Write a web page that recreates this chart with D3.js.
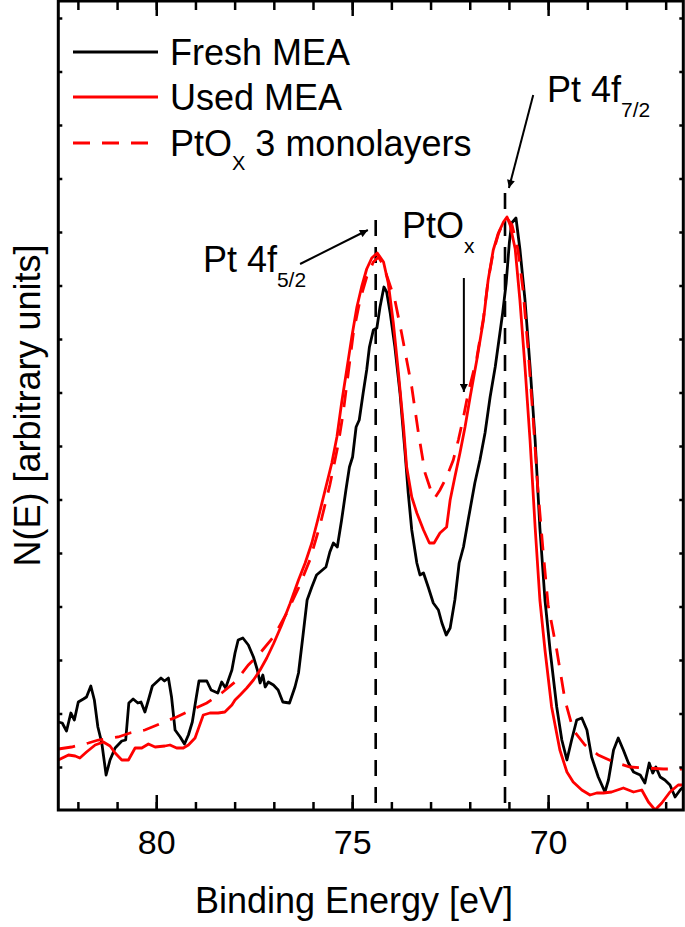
<!DOCTYPE html>
<html>
<head>
<meta charset="utf-8">
<script src="https://cdn.jsdelivr.net/npm/d3@7"></script>
<style>
  html, body { margin: 0; padding: 0; background: #fff; }
  svg { display: block; font-family: "Liberation Sans", Arial, sans-serif; }
</style>
</head>
<body>
<div class="chart"></div>
<script>
// Binding energy [eV] / intensity [arb. units]
var freshMEA = [
  [82.50, 88], [82.40, 87], [82.29, 79], [82.18, 97], [82.09, 90], [81.99, 108], [81.86, 111],
  [81.78, 113], [81.67, 124], [81.58, 110], [81.49, 83], [81.39, 67], [81.28, 35], [81.18, 50],
  [81.05, 62], [80.88, 69], [80.78, 70], [80.70, 107], [80.59, 111], [80.47, 107], [80.39, 108],
  [80.29, 98], [80.20, 110], [80.10, 124], [79.99, 128], [79.88, 132], [79.79, 129], [79.69, 132],
  [79.61, 113], [79.52, 80], [79.39, 73], [79.28, 66], [79.18, 75], [79.08, 88], [78.99, 110],
  [78.91, 129], [78.71, 129], [78.60, 120], [78.43, 117], [78.33, 128], [78.23, 122], [78.07, 140],
  [77.99, 157], [77.91, 170], [77.79, 172], [77.65, 165], [77.52, 153], [77.42, 140], [77.35, 127],
  [77.28, 135], [77.22, 123], [77.14, 128], [77.01, 125], [76.89, 120], [76.77, 108], [76.60, 107],
  [76.46, 123], [76.37, 137], [76.26, 173], [76.15, 210], [76.03, 223], [75.91, 235], [75.82, 238],
  [75.67, 243], [75.57, 258], [75.48, 267], [75.38, 263], [75.27, 290], [75.16, 320], [75.07, 343],
  [74.99, 353], [74.90, 383], [74.82, 390], [74.72, 417], [74.63, 440], [74.56, 463], [74.46, 480],
  [74.37, 482], [74.29, 503], [74.19, 523], [74.12, 518], [74.03, 497], [73.91, 463], [73.78, 417],
  [73.65, 357], [73.57, 317], [73.48, 280], [73.35, 247], [73.27, 235], [73.18, 237], [73.06, 223],
  [72.93, 207], [72.80, 200], [72.71, 187], [72.60, 175], [72.50, 182], [72.38, 210], [72.27, 247],
  [72.16, 263], [72.04, 290], [71.87, 327], [71.74, 350], [71.61, 377], [71.48, 413], [71.35, 443],
  [71.23, 477], [71.16, 497], [71.07, 527], [70.99, 567], [70.93, 587], [70.82, 592], [70.72, 561],
  [70.59, 510], [70.46, 443], [70.33, 369], [70.21, 282], [70.08, 210], [69.95, 160], [69.78, 103],
  [69.65, 70], [69.52, 50], [69.40, 70], [69.27, 90], [69.14, 92], [69.01, 80], [68.89, 53],
  [68.72, 33], [68.55, 18], [68.46, 30], [68.33, 60], [68.21, 72], [68.08, 60], [67.95, 47],
  [67.82, 38], [67.65, 35], [67.53, 27], [67.42, 47], [67.33, 37], [67.25, 43], [67.14, 33],
  [67.02, 30], [66.89, 25], [66.76, 13], [66.63, 20], [66.55, 23]
];

var usedMEA = [
  [82.50, 50], [82.24, 55], [82.07, 54], [81.95, 52], [81.78, 58], [81.56, 65], [81.35, 68],
  [81.18, 64], [81.05, 57], [80.88, 50], [80.71, 50], [80.54, 62], [80.37, 62], [80.20, 66],
  [80.03, 63], [79.78, 64], [79.65, 65], [79.48, 62], [79.31, 62], [79.18, 65], [79.01, 72],
  [78.80, 95], [78.63, 97], [78.42, 97], [78.25, 98], [78.07, 105], [77.99, 110], [77.86, 115],
  [77.69, 122], [77.52, 130], [77.35, 140], [77.18, 152], [77.01, 166], [76.80, 185], [76.59, 206],
  [76.37, 230], [76.20, 247], [76.03, 267], [75.86, 293], [75.69, 320], [75.52, 347], [75.39, 373],
  [75.27, 407], [75.14, 440], [75.01, 473], [74.88, 503], [74.76, 523], [74.63, 541], [74.50, 552],
  [74.36, 557], [74.20, 548], [74.08, 527], [73.95, 487], [73.82, 437], [73.69, 383], [73.61, 343],
  [73.48, 313], [73.35, 297], [73.18, 280], [73.03, 267], [72.91, 267], [72.76, 277], [72.59, 283],
  [72.50, 310], [72.38, 333], [72.25, 357], [72.12, 383], [71.99, 413], [71.82, 450], [71.65, 490],
  [71.53, 530], [71.40, 560], [71.27, 577], [71.14, 588], [71.05, 593], [70.97, 585], [70.84, 561],
  [70.72, 510], [70.59, 443], [70.46, 369], [70.33, 282], [70.21, 210], [70.08, 160], [69.91, 103],
  [69.70, 60], [69.52, 38], [69.36, 28], [69.14, 20], [68.93, 15], [68.76, 17], [68.59, 17],
  [68.38, 18], [68.08, 22], [67.82, 18], [67.61, 20], [67.44, 8], [67.27, 0], [67.10, 7],
  [66.89, 18], [66.68, 25], [66.55, 25]
];

var ptOx3ML = [
  [82.50, 61], [82.16, 63], [81.73, 67], [81.48, 70], [80.97, 73], [80.67, 77], [80.29, 80],
  [79.86, 87], [79.48, 93], [79.10, 100], [78.71, 107], [78.33, 117], [77.99, 128], [77.65, 145],
  [77.35, 157], [77.01, 173], [76.67, 197], [76.37, 222], [76.08, 250], [75.82, 285], [75.57, 325],
  [75.36, 365], [75.23, 397], [75.10, 437], [74.97, 477], [74.80, 510], [74.63, 533], [74.46, 548],
  [74.33, 553], [74.21, 545], [74.08, 530], [73.91, 510], [73.74, 477], [73.61, 450], [73.48, 423],
  [73.31, 377], [73.14, 337], [72.97, 317], [72.89, 312], [72.76, 320], [72.59, 333], [72.42, 350],
  [72.29, 370], [72.16, 393], [72.04, 417], [71.82, 452], [71.65, 492], [71.53, 530], [71.40, 558],
  [71.27, 576], [71.14, 588], [71.05, 592], [70.92, 585], [70.77, 560], [70.64, 520], [70.51, 460],
  [70.38, 390], [70.26, 320], [70.13, 260], [70.00, 205], [69.78, 160], [69.57, 110], [69.36, 80],
  [69.06, 65], [68.72, 55], [68.33, 48], [67.91, 43], [67.48, 42], [67.06, 41], [66.55, 41]
];

var majorTicks = [80, 75, 70];
var minorTicks = d3.range(82, 66, -1);
var yTicks = d3.range(43, 809, 53.5);

// peak positions Pt 4f5/2 and Pt 4f7/2 (eV) with top of dashed marker
var peakLines = [[74.4, 590], [71.1, 617]];

var legendNames = ["Fresh MEA", "Used MEA", "PtO"];

var width = 685, height = 927;
var margin = {left: 58.3, right: 683.3, top: 1, bottom: 810};

var x = d3.scaleLinear().domain([82.5, 66.55]).range([margin.left, margin.right]);
var y = d3.scaleLinear().domain([0, 809]).range([margin.bottom, margin.top]);

var svg = d3.select(".chart").append("svg")
  .attr("width", width)
  .attr("height", height);

svg.append("defs").append("clipPath").attr("id", "clip")
  .append("rect")
  .attr("x", margin.left).attr("y", margin.top)
  .attr("width", margin.right - margin.left)
  .attr("height", margin.bottom - margin.top);

svg.append("defs").append("marker")
  .attr("id", "head")
  .attr("viewBox", "0 0 10 10")
  .attr("refX", 10).attr("refY", 5)
  .attr("markerWidth", 5).attr("markerHeight", 4)
  .attr("markerUnits", "strokeWidth")
  .attr("orient", "auto")
  .append("path").attr("d", "M0,0 L10,5 L0,10 z").attr("fill", "#000");

// dashed marker lines at the Pt 4f peaks
svg.selectAll(".peakline")
  .data(peakLines)
  .enter().append("line")
  .attr("class", "peakline")
  .attr("x1", function (d) { return x(d[0]); })
  .attr("x2", function (d) { return x(d[0]); })
  .attr("y1", function (d) { return y(d[1]); })
  .attr("y2", margin.bottom)
  .attr("stroke", "#000")
  .attr("stroke-width", 2.6)
  .attr("stroke-dasharray", "16,11");

var line = d3.line()
  .x(function (d) { return x(d[0]); })
  .y(function (d) { return y(d[1]); });

var curves = svg.append("g").attr("clip-path", "url(#clip)");

curves.append("path").datum(freshMEA)
  .attr("d", line).attr("fill", "none")
  .attr("stroke", "#000").attr("stroke-width", 2.8)
  .attr("stroke-linejoin", "round");

curves.append("path").datum(ptOx3ML)
  .attr("d", line).attr("fill", "none")
  .attr("stroke", "#ff0000").attr("stroke-width", 2.8)
  .attr("stroke-dasharray", "17,12");

curves.append("path").datum(usedMEA)
  .attr("d", line).attr("fill", "none")
  .attr("stroke", "#ff0000").attr("stroke-width", 2.8)
  .attr("stroke-linejoin", "round");

// axes
function clean(g) {
  g.select(".domain").remove();
  g.selectAll(".tick line").attr("stroke-width", 2.5);
}

svg.append("g")
  .attr("transform", "translate(0," + margin.bottom + ")")
  .call(d3.axisBottom(x).tickValues(minorTicks).tickSize(-8).tickFormat(""))
  .call(clean);

svg.append("g")
  .attr("transform", "translate(0," + margin.bottom + ")")
  .call(d3.axisBottom(x).tickValues(majorTicks).tickSize(-15).tickPadding(20).tickFormat(d3.format("d")))
  .call(clean)
  .call(function (g) {
    g.selectAll("text").attr("font-size", 34).attr("fill", "#000")
      .attr("font-family", "Liberation Sans, Arial, sans-serif");
  });

svg.append("g")
  .attr("transform", "translate(0," + margin.top + ")")
  .call(d3.axisTop(x).tickValues(minorTicks).tickSize(-9).tickFormat(""))
  .call(clean);

svg.append("g")
  .attr("transform", "translate(0," + margin.top + ")")
  .call(d3.axisTop(x).tickValues(majorTicks).tickSize(-15).tickFormat(""))
  .call(clean);

svg.append("g")
  .attr("transform", "translate(" + margin.left + ",0)")
  .call(d3.axisLeft(y).tickValues(yTicks).tickSize(-4).tickFormat(""))
  .call(clean);

svg.append("g")
  .attr("transform", "translate(" + margin.right + ",0)")
  .call(d3.axisRight(y).tickValues(yTicks).tickSize(-4).tickFormat(""))
  .call(clean);

svg.append("rect")
  .attr("x", margin.left).attr("y", margin.top)
  .attr("width", margin.right - margin.left)
  .attr("height", margin.bottom - margin.top)
  .attr("fill", "none").attr("stroke", "#000").attr("stroke-width", 3);

// axis titles
svg.append("text")
  .attr("x", 354).attr("y", 913)
  .attr("text-anchor", "middle")
  .attr("font-size", 36)
  .text("Binding Energy [eV]");

svg.append("text")
  .attr("transform", "translate(40," + ((margin.top + margin.bottom) / 2) + ") rotate(-90)")
  .attr("text-anchor", "middle")
  .attr("font-size", 36)
  .text("N(E) [arbitrary units]");

// legend
var legendY = [52, 97, 143];
var legendStyle = [["#000", null], ["#ff0000", null], ["#ff0000", "17,12"]];
var legend = svg.append("g");
legendY.forEach(function (ly, i) {
  legend.append("line")
    .attr("x1", 73).attr("x2", 158).attr("y1", ly).attr("y2", ly)
    .attr("stroke", legendStyle[i][0]).attr("stroke-width", 2.8)
    .attr("stroke-dasharray", legendStyle[i][1]);
  var t = legend.append("text").attr("x", 170).attr("y", ly + 12.6).attr("font-size", 36)
    .text(legendNames[i]);
  if (i == 2) {
    t.append("tspan").attr("font-size", 20).attr("dy", 14).text("X");
    t.append("tspan").attr("dy", -14).text(" 3 monolayers");
  }
});

// annotations
function label(E, N, main, sub) {
  var t = svg.append("text").attr("x", x(E)).attr("y", y(N)).attr("font-size", 36).text(main);
  t.append("tspan").attr("font-size", 21).attr("dy", 15).text(sub);
}
label(78.81, 538, "Pt 4f", "5/2");
label(73.73, 572, "PtO", "x");
label(70.03, 708, "Pt 4f", "7/2");

var arrows = [
  [[76.33, 546], [74.60, 580]],
  [[72.15, 532], [72.15, 418]],
  [[70.38, 715], [71.00, 622]]
];
svg.selectAll(".arrow")
  .data(arrows)
  .enter().append("line")
  .attr("class", "arrow")
  .attr("x1", function (d) { return x(d[0][0]); })
  .attr("y1", function (d) { return y(d[0][1]); })
  .attr("x2", function (d) { return x(d[1][0]); })
  .attr("y2", function (d) { return y(d[1][1]); })
  .attr("stroke", "#000")
  .attr("stroke-width", 2)
  .attr("marker-end", "url(#head)");
</script>
</body>
</html>
